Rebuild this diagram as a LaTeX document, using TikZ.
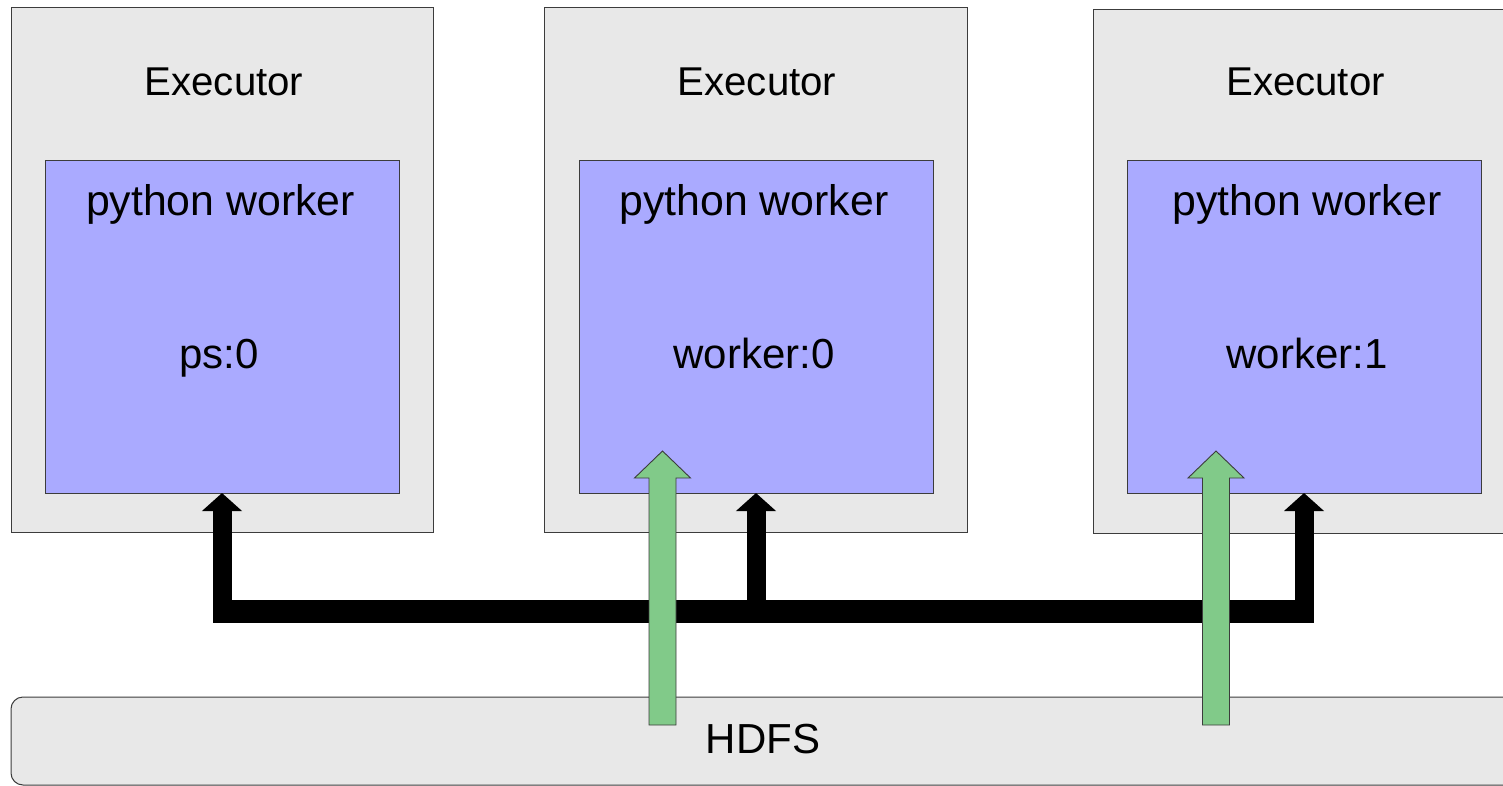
\documentclass[tikz,border=0pt]{standalone}
\usepackage{fontspec}
\setmainfont{Liberation Sans}
\usetikzlibrary{arrows.meta,calc}
\definecolor{exefill}{RGB}{232,232,232}
\definecolor{wfill}{RGB}{170,170,255}
\definecolor{gfill}{RGB}{129,202,137}
\definecolor{edgec}{RGB}{60,60,60}
\begin{document}
\begin{tikzpicture}[x=1pt,y=-1pt,
  exebox/.style={draw=edgec, line width=1pt, fill=exefill, inner sep=0pt, outer sep=0pt, anchor=north west},
  wbox/.style={draw=edgec, line width=1pt, fill=wfill, inner sep=0pt, outer sep=0pt, anchor=north west,
               minimum width=354pt, minimum height=332pt},
  hdfsbox/.style={draw=edgec, line width=1pt, fill=exefill, rounded corners=12pt, inner sep=0pt, outer sep=0pt, anchor=north west},
  exetxt/.style={inner sep=0pt, anchor=base, font=\fontsize{40.2}{41}\selectfont},
  pwtxt/.style={inner sep=0pt, anchor=base, font=\fontsize{42.8}{44}\selectfont},
  wtxt/.style={inner sep=0pt, anchor=base, font=\fontsize{42}{44}\selectfont},
  bus/.style={line width=23pt, black},
  busarrow/.style={line width=19pt, black, -{Triangle[width=39pt,length=18pt]}},
  garrow/.style={draw=edgec, line width=0.9pt, fill=gfill, line join=miter}
]
\useasboundingbox (0,0) rectangle (1503,786);
\clip (0,0) rectangle (1503,786);
\fill[white] (0,0) rectangle (1503,786);

% executors
\node[exebox, minimum width=422pt, minimum height=524pt] (e1) at (11,8) {};
\node[exebox, minimum width=423pt, minimum height=524pt] (e2) at (544,8) {};
\node[exebox, minimum width=422pt, minimum height=523pt] (e3) at (1093,10) {};
\node[exetxt] (e1t) at (224,96) {Executor};
\node[exetxt] (e2t) at (757,96) {Executor};
\node[exetxt] (e3t) at (1305.5,96) {Executor};

% python workers
\node[wbox] (ps) at (45,161) {};
\node[wbox] (w0) at (579,161) {};
\node[wbox] (w1) at (1127,161) {};
\node[pwtxt] (pst) at (220.5,216) {python worker};
\node[pwtxt] (w0t) at (754,216) {python worker};
\node[pwtxt] (w1t) at (1307,216) {python worker};
\node[wtxt] (psl) at (219,368) {ps:0};
\node[wtxt] (w0l) at (754,368) {worker:0};
\node[wtxt] (w1l) at (1307,368) {worker:1};

% HDFS
\node[hdfsbox, minimum width=1504pt, minimum height=88pt] (hdfs) at (11,697) {};
\node[wtxt] (hdfst) at (763,753) {HDFS};

% black bus
\coordinate (busL) at (213,611.5);
\coordinate (busR) at (1314,611.5);
\draw[bus] (busL) -- (busR);
\draw[busarrow] (ps.south |- busL) -- (ps.south);
\draw[busarrow] (w0.south |- busL) -- (w0.south);
\draw[busarrow] (w1.south |- busL) -- (w1.south);

% green arrows from HDFS
\coordinate (g0s) at (662.5,725);
\coordinate (g0e) at (662.5,451);
\coordinate (g1s) at (1216,725);
\coordinate (g1e) at (1216,451);
\foreach \s/\e in {g0s/g0e, g1s/g1e}{
  \filldraw[garrow] ($(\s)+(-13.5,0)$) -- ($(\e)+(-13.5,27)$) -- ($(\e)+(-28,27)$) -- (\e)
     -- ($(\e)+(28,27)$) -- ($(\e)+(13.5,27)$) -- ($(\s)+(13.5,0)$) -- cycle;
}
\end{tikzpicture}
\end{document}
